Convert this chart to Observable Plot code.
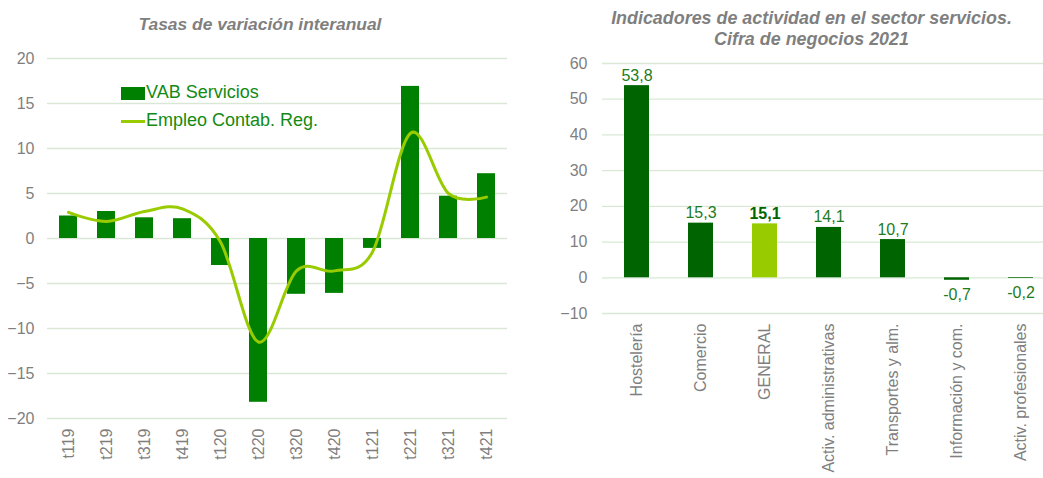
<!DOCTYPE html>
<html>
<head>
<meta charset="utf-8">
<script src="https://cdn.jsdelivr.net/npm/d3@7"></script>
<script src="https://cdn.jsdelivr.net/npm/@observablehq/plot@0.6"></script>
<style>
  html, body { margin: 0; padding: 0; background: #fff; overflow: hidden; }
  #wrap { position: relative; width: 1043px; height: 478px; overflow: hidden; font-family: "Liberation Sans", Arial, sans-serif; }
  .title { position: absolute; color: #7f7f7f; font-weight: bold; font-style: italic; text-align: center; line-height: 21px; }
  .chart { position: absolute; top: 0; }
  .chart svg { max-width: none !important; }
  .leg { position: absolute; color: #138a13; font-size: 18px; white-space: nowrap; }
  .sw { position: absolute; }
</style>
</head>
<body>
<div id="wrap">
  <div class="title" style="left:0;width:520px;top:14px;font-size:17.4px;">Tasas de variación interanual</div>
  <div class="title" style="left:560px;width:503px;top:8px;font-size:17.9px;">Indicadores de actividad en el sector servicios.<br>Cifra de negocios 2021</div>
  <div id="left" class="chart" style="left:0;width:520px;height:478px;"></div>
  <div id="right" class="chart" style="left:540px;width:515px;height:478px;"></div>
  <div class="sw" style="left:121px;top:87px;width:24px;height:13px;background:#008000"></div>
  <div class="leg" style="left:146px;top:82px;">VAB Servicios</div>
  <div class="sw" style="left:121px;top:120px;width:24px;height:3px;background:#99cc00"></div>
  <div class="leg" style="left:146px;top:110px;">Empleo Contab. Reg.</div>
</div>
<script>
// ---- Left chart data ----
const quarters = ["t119","t219","t319","t419","t120","t220","t320","t420","t121","t221","t321","t421"];
const vabServicios = [2.5, 3.0, 2.3, 2.2, -3.0, -18.2, -6.2, -6.1, -1.1, 16.9, 4.7, 7.2];
const empleoContab = [2.9, 1.9, 3.0, 3.3, -0.4, -11.5, -3.6, -3.6, -1.5, 11.7, 5.0, 4.6];
const leftTicks = [-20, -15, -10, -5, 0, 5, 10, 15, 20];

// ---- Right chart data ----
const sectores = ["Hostelería","Comercio","GENERAL","Activ. administrativas","Transportes y alm.","Información y com.","Activ. profesionales"];
const cifraNegocios = [53.8, 15.3, 15.1, 14.1, 10.7, -0.7, -0.2];
const rightTicks = [-10, 0, 10, 20, 30, 40, 50, 60];

const FONT = "Liberation Sans, Arial, sans-serif";
const GRID = "#d9e8d5";
const TICK = "#7f7f7f";

const leftData = quarters.map((q, i) => ({q, vab: vabServicios[i], emp: empleoContab[i]}));

const left = Plot.plot({
  width: 520, height: 478,
  marginLeft: 47, marginRight: 13, marginTop: 58, marginBottom: 60,
  style: {fontFamily: FONT, background: "transparent"},
  x: {domain: quarters, paddingInner: 0.53, paddingOuter: 0.265, label: null},
  y: {domain: [-20, 20], label: null},
  marks: [
    Plot.gridY(leftTicks, {stroke: GRID, strokeOpacity: 1, strokeWidth: 1.3}),
    Plot.barY(leftData, {x: "q", y: "vab", fill: "#008000"}),
    Plot.line(leftData, {x: "q", y: "emp", stroke: "#99cc00", strokeWidth: 3, curve: "cardinal"}),
    Plot.axisY(leftTicks, {tickSize: 0, tickPadding: 13, fontSize: 16, fill: TICK, label: null}),
    Plot.axisX({tickSize: 0, tickPadding: 10, tickRotate: -90, fontSize: 16, fill: TICK, label: null})
  ]
});
document.getElementById("left").append(left);

const rightData = sectores.map((s, i) => ({s, v: cifraNegocios[i], lab: cifraNegocios[i].toFixed(1).replace(".", ",")}));
const isGen = d => d.s === "GENERAL";

const right = Plot.plot({
  width: 515, height: 478,
  marginLeft: 62, marginRight: 0, marginTop: 63, marginBottom: 165,
  style: {fontFamily: FONT, background: "transparent", overflow: "visible"},
  x: {domain: sectores, paddingInner: 0.61, paddingOuter: 0.305, label: null},
  y: {domain: [-10, 60], label: null},
  marks: [
    Plot.gridY(rightTicks, {stroke: GRID, strokeOpacity: 1, strokeWidth: 1.3}),
    Plot.barY(rightData, {x: "s", y: "v", fill: d => isGen(d) ? "#99cc00" : "#006400"}),
    Plot.text(rightData.filter(d => d.v >= 0 && !isGen(d)), {x: "s", y: "v", text: "lab", lineAnchor: "bottom", dy: -5, fontSize: 16, fill: "#1e7b1e"}),
    Plot.text(rightData.filter(isGen), {x: "s", y: "v", text: "lab", lineAnchor: "bottom", dy: -5, fontSize: 16, fill: "#006400", fontWeight: "bold"}),
    Plot.text(rightData.filter(d => d.v < 0), {x: "s", y: "v", text: "lab", lineAnchor: "top", dy: 8, fontSize: 16, fill: "#1e7b1e"}),
    Plot.axisY(rightTicks, {tickSize: 0, tickPadding: 15, fontSize: 16, fill: TICK, label: null}),
    Plot.axisX({tickSize: 0, tickPadding: 10, tickRotate: -90, fontSize: 16, fill: TICK, label: null})
  ]
});
document.getElementById("right").append(right);
</script>
</body>
</html>
